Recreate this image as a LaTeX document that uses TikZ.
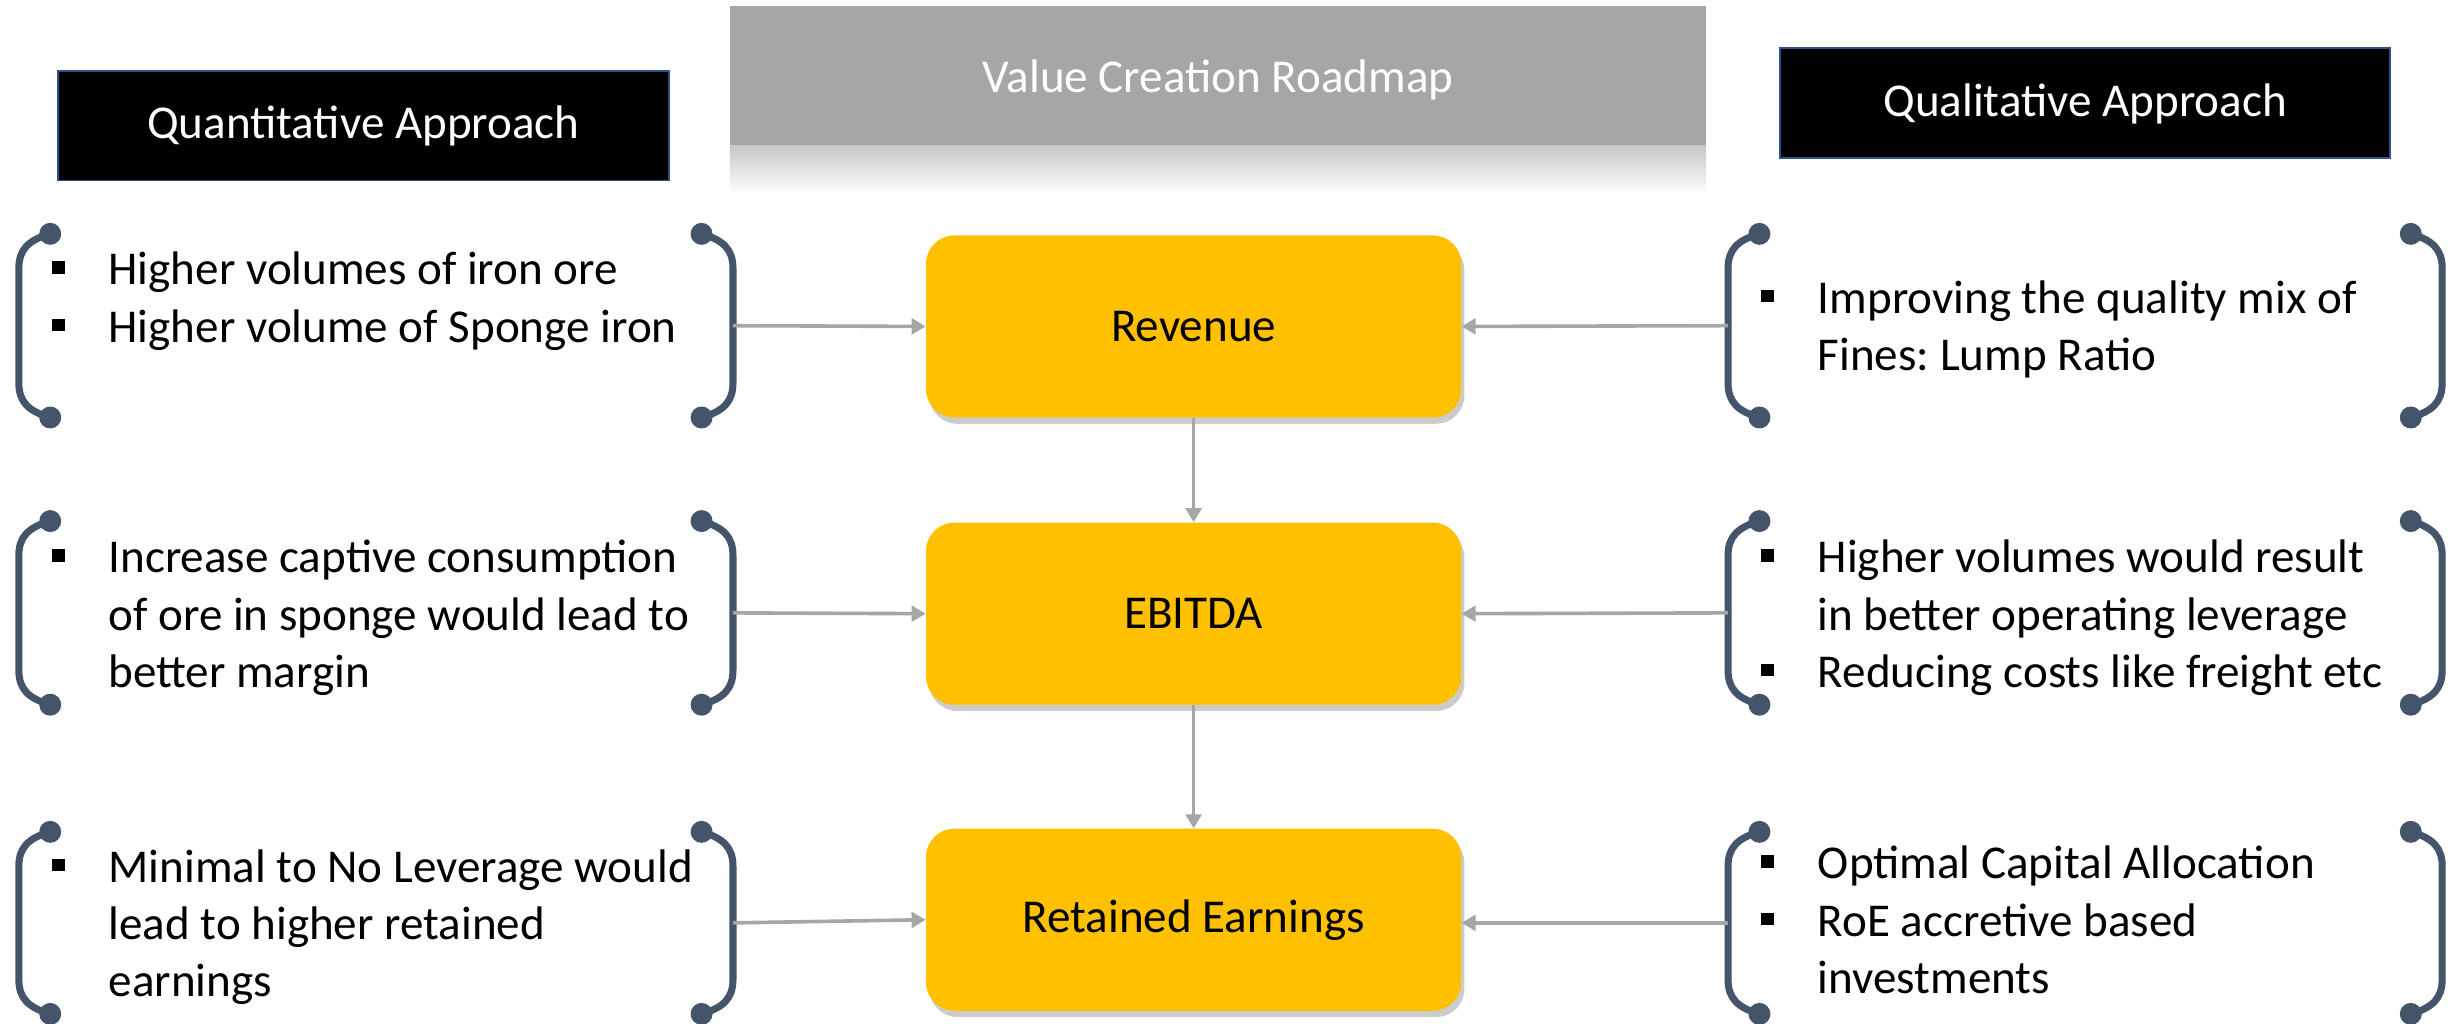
\documentclass[tikz,border=0pt]{standalone}
\usepackage{fontspec}
\setmainfont{Carlito}
\usetikzlibrary{arrows.meta,shadows,positioning}
\frenchspacing

\definecolor{RoadGold}{HTML}{FFC000}
\definecolor{BraceSlate}{HTML}{44546A}
\definecolor{LinkGray}{HTML}{A6A6A6}
\definecolor{HeadBlue}{HTML}{2F528F}

\newcommand{\itm}{\makebox[36pt][l]{\rule[7pt]{8pt}{8pt}}}
\newcommand{\gap}{\hspace*{36pt}}

% #1 name, #2 x of left dots, #3 x of right dots, #4 top y, #5 bottom y
\newcommand{\bracepair}[5]{%
    \draw[brace] (#2,#4) .. controls (#2-14,#4+4) and (#2-20,#4+10) .. (#2-20,#4+22)
        -- (#2-20,#5-22) .. controls (#2-20,#5-10) and (#2-14,#5-4) .. (#2,#5);
    \draw[brace] (#3,#4) .. controls (#3+14,#4+4) and (#3+20,#4+10) .. (#3+20,#4+22)
        -- (#3+20,#5-22) .. controls (#3+20,#5-10) and (#3+14,#5-4) .. (#3,#5);
    \fill[BraceSlate] (#2,#4) circle (7) (#2,#5) circle (7) (#3,#4) circle (7) (#3,#5) circle (7);
    \coordinate (#1-l) at (#2-20,{(#4+#5)/2});
    \coordinate (#1-r) at (#3+20,{(#4+#5)/2});
}

\begin{document}
\begin{tikzpicture}[x=1pt, y=-1pt,
    headbox/.style={draw=HeadBlue, line width=1.2pt, fill=black, text=white,
        minimum width=389pt, minimum height=70pt, text depth=4pt, font=\fontsize{30}{36}\selectfont},
    goldbox/.style={fill=RoadGold, rounded corners=18pt, minimum width=341pt,
        minimum height=116pt, font=\fontsize{30}{36}\selectfont,
        drop shadow={shadow xshift=2pt, shadow yshift=-4pt, fill=black!45, opacity=.45}},
    bullets/.style={anchor=base west, inner sep=0pt, font=\fontsize{30}{36.5}\selectfont},
    brace/.style={draw=BraceSlate, line width=4.5pt},
    link/.style={draw=LinkGray, line width=2.3pt, -{Triangle[length=9pt,width=10pt]}}]

    \useasboundingbox (0,0) rectangle (1568,652);

    % title banner
    \fill[LinkGray] (465,4) rectangle (1087,93);
    \shade[top color=black!22, bottom color=white] (465,93) rectangle (1087,124);
    \node[text=white, font=\fontsize{30}{36}\selectfont] (Title) at (776,51) {Value Creation Roadmap};

    \node[headbox] (Quant) at (231.5,80) {Quantitative Approach};
    \node[headbox] (Qual) at (1328.5,65.5) {Qualitative Approach};

    % centre column
    \node[goldbox] (Revenue) at (760.5,208) {Revenue};
    \node[goldbox] (Ebitda) at (760.5,391) {EBITDA};
    \node[goldbox] (Retained) at (760.5,586) {Retained Earnings};

    % brackets
    \bracepair{QnA}{32}{447}{149}{266}
    \bracepair{QnB}{32}{447}{332}{449}
    \bracepair{QnC}{32}{447}{530}{646}
    \bracepair{QlA}{1121}{1536}{149}{266}
    \bracepair{QlB}{1121}{1536}{332}{449}
    \bracepair{QlC}{1121}{1536}{530}{646}

    % bullet texts
    \node[bullets] (QnTextA) at (33,181.5) {\begin{tabular}[t]{@{}l@{}}
        \itm Higher volumes of iron ore\\ \itm Higher volume of Sponge iron\end{tabular}};
    \node[bullets] (QnTextB) at (33,365) {\begin{tabular}[t]{@{}l@{}}
        \itm Increase captive consumption\\ \gap of ore in sponge would lead to\\ \gap better margin\end{tabular}};
    \node[bullets] (QnTextC) at (33,562) {\begin{tabular}[t]{@{}l@{}}
        \itm Minimal to No Leverage would\\ \gap lead to higher retained\\ \gap earnings\end{tabular}};
    \node[bullets] (QlTextA) at (1122,199.5) {\begin{tabular}[t]{@{}l@{}}
        \itm Improving the quality mix of\\ \gap Fines: Lump Ratio\end{tabular}};
    \node[bullets] (QlTextB) at (1122,365) {\begin{tabular}[t]{@{}l@{}}
        \itm Higher volumes would result\\ \gap in better operating leverage\\ \itm Reducing costs like freight etc\end{tabular}};
    \node[bullets] (QlTextC) at (1122,560) {\begin{tabular}[t]{@{}l@{}}
        \itm Optimal Capital Allocation\\ \itm RoE accretive based\\ \gap investments\end{tabular}};

    % connectors
    \draw[link] (QnA-r) -- (Revenue.west);
    \draw[link] (QnB-r) -- (Ebitda.west);
    \draw[link] (QnC-r) -- (Retained.west);
    \draw[link] (QlA-l) -- (Revenue.east);
    \draw[link] (QlB-l) -- (Ebitda.east);
    \draw[link] (QlC-l) -- (Retained.east |- QlC-l);
    \draw[link] (Revenue) -- (Ebitda);
    \draw[link] (Ebitda) -- (Retained);
\end{tikzpicture}
\end{document}
